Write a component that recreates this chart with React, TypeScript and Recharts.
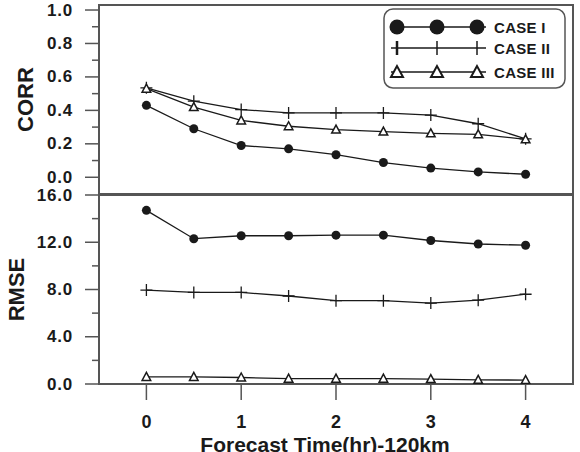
import { LineChart, Line, XAxis, YAxis, ReferenceArea, Legend } from 'recharts';

const times = [0, 0.5, 1, 1.5, 2, 2.5, 3, 3.5, 4];
const hourTicks = [0, 1, 2, 3, 4];
const corrTicks = [0, 0.1, 0.2, 0.3, 0.4, 0.5, 0.6, 0.7, 0.8, 0.9, 1.0];
const rmseTicks = [0, 2, 4, 6, 8, 10, 12, 14, 16];
const caseNames = ['CASE I', 'CASE II', 'CASE III'];

const corrCase1 = [0.43, 0.29, 0.19, 0.17, 0.135, 0.088, 0.055, 0.032, 0.018];
const corrCase2 = [0.535, 0.455, 0.405, 0.385, 0.385, 0.385, 0.372, 0.32, 0.23];
const corrCase3 = [0.53, 0.42, 0.34, 0.305, 0.285, 0.273, 0.263, 0.257, 0.227];

const rmseCase1 = [14.7, 12.3, 12.55, 12.55, 12.6, 12.6, 12.15, 11.85, 11.75];
const rmseCase2 = [7.95, 7.75, 7.75, 7.45, 7.05, 7.05, 6.85, 7.1, 7.6];
const rmseCase3 = [0.6, 0.6, 0.55, 0.45, 0.45, 0.45, 0.42, 0.35, 0.33];

const corrRows = times.map((t, i) => ({ t, c1: corrCase1[i], c2: corrCase2[i], c3: corrCase3[i] }));
const rmseRows = times.map((t, i) => ({ t, c1: rmseCase1[i], c2: rmseCase2[i], c3: rmseCase3[i] }));

const FONT = '"Liberation Sans", Arial, sans-serif';
const AXIS = '#555';
const INK = '#1a1a1a';

// markers
const CircleDot = (p: any) => <circle key={p.index} cx={p.cx} cy={p.cy} r={4.5} fill={INK} />;
const PlusDot = (p: any) => (
  <path key={p.index} d={`M${p.cx - 6},${p.cy}H${p.cx + 6}M${p.cx},${p.cy - 6}V${p.cy + 6}`} stroke={INK} strokeWidth={1.3} fill="none" />
);
const TriDot = (p: any) => (
  <path key={p.index} d={`M${p.cx},${p.cy - 4.5}L${p.cx - 4.3},${p.cy + 3.5}L${p.cx + 4.3},${p.cy + 3.5}Z`} stroke={INK} strokeWidth={1.5} fill="#fff" />
);
const dots = [CircleDot, PlusDot, TriDot];

function YTick({ x, y, payload, step }: any) {
  const v = payload.value;
  const major = Math.round(v / step) % 2 === 0;
  return (
    <g>
      <line x1={x - (major ? 14 : 7)} x2={x} y1={y} y2={y} stroke={AXIS} strokeWidth={1.5} />
      {major && (
        <text x={x - 26} y={y} textAnchor="end" dominantBaseline="central" fontFamily={FONT} fontWeight="bold" fontSize={17} letterSpacing={0.8} fill={INK}>
          {v.toFixed(1)}
        </text>
      )}
    </g>
  );
}

function XTick({ x, y, payload }: any) {
  return (
    <g>
      <line x1={x} x2={x} y1={y} y2={y + 16} stroke={AXIS} strokeWidth={1.5} />
      <text x={x} y={y + 44} textAnchor="middle" fontFamily={FONT} fontWeight="bold" fontSize={18} fill={INK}>
        {payload.value}
      </text>
    </g>
  );
}

const yTitle = (text: string) => (props: any) => {
  const vb = props.viewBox;
  return (
    <text
      transform={`translate(${text === 'CORR' ? 25 : 16},${vb.y + vb.height / 2}) rotate(-90)`}
      textAnchor="middle"
      dominantBaseline="central"
      fontFamily={FONT}
      fontWeight="bold"
      fontSize={22}
      fill={INK}
    >
      {text}
    </text>
  );
};

const XTitle = (props: any) => {
  const vb = props.viewBox;
  return (
    <text x={vb.x + vb.width / 2 - 11} y={vb.y + 68} textAnchor="middle" fontFamily={FONT} fontWeight="bold" fontSize={21} fill={INK}>
      Forecast Time(hr)-120km
    </text>
  );
};

function LegendBox({ payload }: any) {
  const rows = [19, 40, 64];
  return (
    <svg width={184} height={82}>
      <rect x={1} y={1} width={181} height={79} rx={9} fill="#fff" stroke={AXIS} strokeWidth={1.5} />
      {(payload || []).map((item: any, i: number) => {
        const y = rows[i];
        return (
          <g key={item.value}>
            <line x1={8} x2={103} y1={y} y2={y} stroke={INK} strokeWidth={1.3} />
            {[14, 54, 94].map((cx) =>
              i === 0 ? (
                <circle key={cx} cx={cx} cy={y} r={7.5} fill={INK} />
              ) : i === 1 ? (
                <path key={cx} d={`M${cx},${y - 7}V${y + 7}`} stroke={INK} strokeWidth={cx === 14 ? 2.5 : 1.5} />
              ) : (
                <path key={cx} d={`M${cx},${y - 6}L${cx - 6},${y + 5}L${cx + 6},${y + 5}Z`} fill="#fff" stroke={INK} strokeWidth={2} />
              )
            )}
            <text x={111} y={y} dominantBaseline="central" fontFamily={FONT} fontWeight="bold" fontSize={15} letterSpacing={0.3} fill={INK}>
              {item.value}
            </text>
          </g>
        );
      })}
    </svg>
  );
}

export default function App() {
  const lines = ['c1', 'c2', 'c3'].map((k, i) => (
    <Line
      key={k}
      dataKey={k}
      name={caseNames[i]}
      type="linear"
      stroke={INK}
      strokeWidth={1.3}
      dot={dots[i]}
      activeDot={false}
      isAnimationActive={false}
    />
  ));

  return (
    <div style={{ position: 'absolute', left: 0, top: 0, width: 580, height: 452, background: '#fff', overflow: 'hidden' }}>
      <div style={{ position: 'absolute', left: 0, top: 0 }}>
        <LineChart width={580} height={200} data={corrRows} margin={{ top: 5, right: 7, bottom: 6, left: 0 }}>
          <XAxis type="number" dataKey="t" domain={[-0.5, 4.5]} hide allowDataOverflow />
          <YAxis
            type="number"
            domain={[-0.1, 1.03]}
            allowDataOverflow
            ticks={corrTicks}
            interval={0}
            width={99}
            tickSize={0}
            tickMargin={0}
            tickLine={false}
            axisLine={{ stroke: AXIS, strokeWidth: 2 }}
            tick={<YTick step={0.1} />}
            label={{ content: yTitle('CORR') }}
          />
          <ReferenceArea x1={-0.5} x2={4.5} y1={-0.1} y2={1.03} fill="none" stroke={AXIS} strokeWidth={2} strokeOpacity={1} />
          {lines}
          <Legend
            layout="horizontal"
            verticalAlign="middle"
            align="center"
            content={<LegendBox />}
            wrapperStyle={{ position: 'absolute', left: 383, top: 8, width: 184, height: 82 }}
          />
        </LineChart>
      </div>
      <div style={{ position: 'absolute', left: 0, top: 185 }}>
        <LineChart width={580} height={267} data={rmseRows} margin={{ top: 10, right: 7, bottom: 0, left: 0 }}>
          <XAxis
            type="number"
            dataKey="t"
            domain={[-0.5, 4.5]}
            allowDataOverflow
            ticks={hourTicks}
            interval={0}
            height={68}
            tickSize={0}
            tickMargin={0}
            tickLine={false}
            axisLine={{ stroke: AXIS, strokeWidth: 2 }}
            tick={<XTick />}
            label={{ content: XTitle }}
          />
          <YAxis
            type="number"
            domain={[0, 16]}
            allowDataOverflow
            ticks={rmseTicks}
            interval={0}
            width={99}
            tickSize={0}
            tickMargin={0}
            tickLine={false}
            axisLine={{ stroke: AXIS, strokeWidth: 2 }}
            tick={<YTick step={2} />}
            label={{ content: yTitle('RMSE') }}
          />
          <ReferenceArea x1={-0.5} x2={4.5} y1={0} y2={16} fill="none" stroke={AXIS} strokeWidth={2} strokeOpacity={1} />
          {lines}
        </LineChart>
      </div>
    </div>
  );
}
